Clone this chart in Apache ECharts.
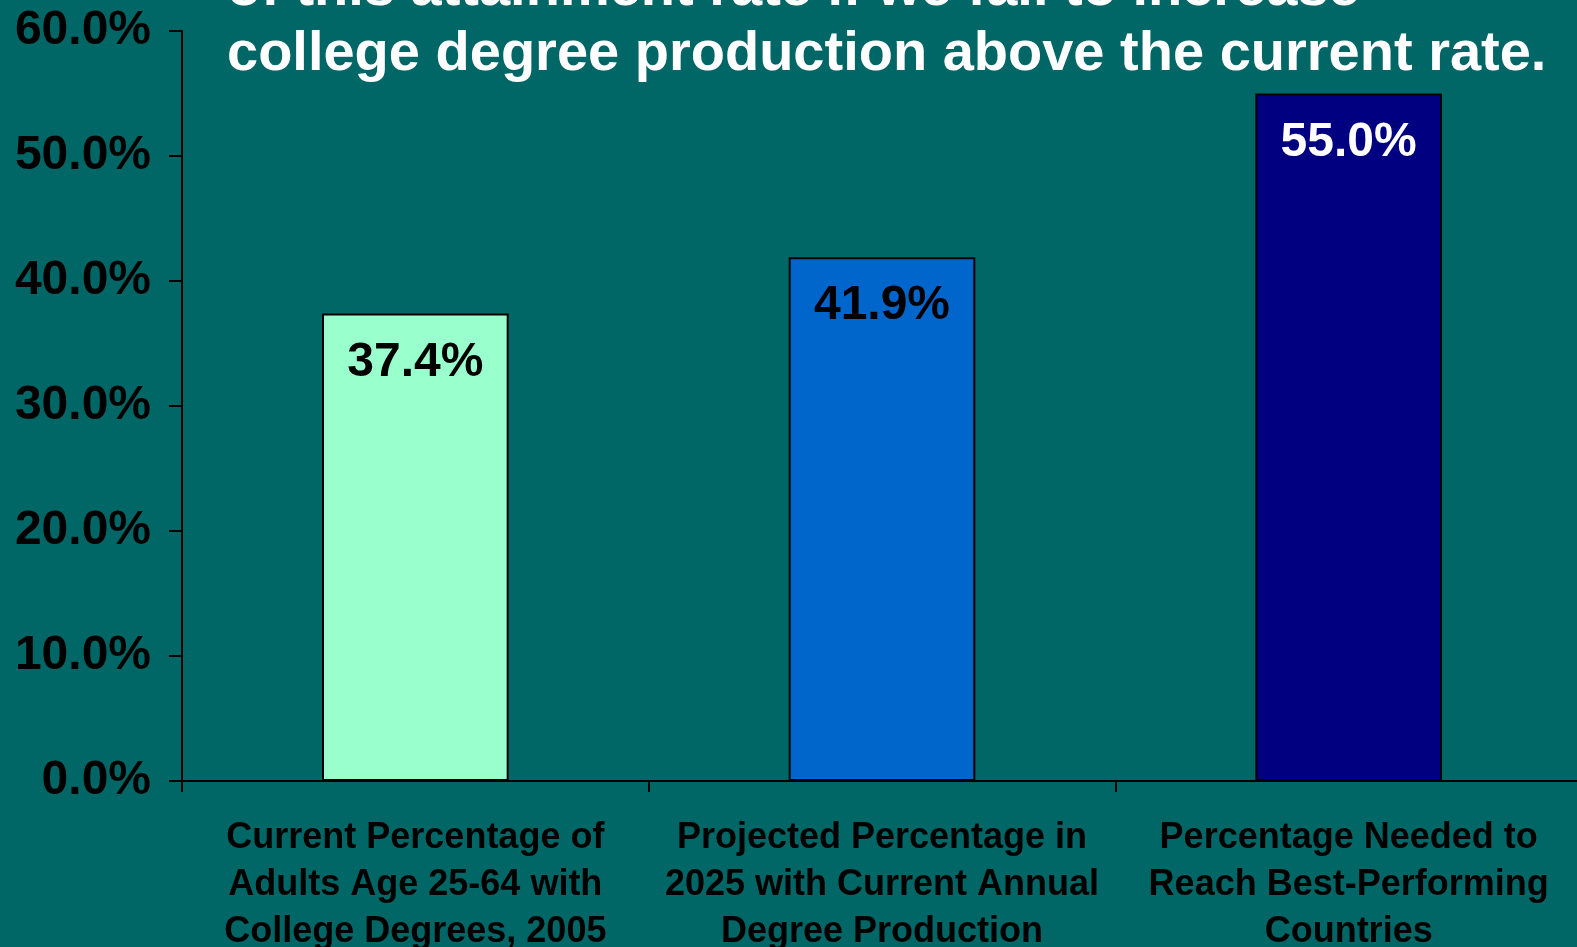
<!DOCTYPE html>
<html>
<head>
<meta charset="utf-8">
<script src="https://cdn.jsdelivr.net/npm/echarts@6/dist/echarts.min.js"></script>
<style>
  html, body { margin: 0; padding: 0; background: #006666; }
  #chart { width: 1577px; height: 947px; }
</style>
</head>
<body>
<div id="chart"></div>
<script>
// Share of adults with college degrees: now, projected, and needed
const categories = [
  'Current Percentage of\nAdults Age 25-64 with\nCollege Degrees, 2005',
  'Projected Percentage in\n2025 with Current Annual\nDegree Production',
  'Percentage Needed to\nReach Best-Performing\nCountries'
];
const values = [37.4, 41.9, 55.0];
const barColors = ['#99FFCC', '#0066CC', '#000080'];
const labelColors = ['#000000', '#000000', '#FFFFFF'];
const titleText = 'of this attainment rate if we fail to increase\ncollege degree production above the current rate.';

const FONT = '"Liberation Sans", Arial, sans-serif';

const chart = echarts.init(document.getElementById('chart'), null, { renderer: 'canvas' });

chart.setOption({
  backgroundColor: '#006666',
  animation: false,
  title: {
    text: titleText,
    left: 222,
    top: -48,
    textStyle: {
      color: '#FFFFFF',
      fontFamily: FONT,
      fontWeight: 'bold',
      fontSize: 56,
      lineHeight: 65
    }
  },
  grid: {
    left: 182, top: 31, width: 1400, height: 750,
    containLabel: false,
    outerBoundsMode: 'none'
  },
  xAxis: {
    type: 'category',
    data: categories,
    boundaryGap: true,
    axisLine: { lineStyle: { color: '#000000', width: 2 } },
    axisTick: { show: true, length: 11, lineStyle: { color: '#000000', width: 2 } },
    axisLabel: {
      interval: 0,
      margin: 34,
      color: '#000000',
      fontFamily: FONT,
      fontWeight: 'bold',
      fontSize: 36,
      lineHeight: 47
    }
  },
  yAxis: {
    type: 'value',
    min: 0,
    max: 60,
    interval: 10,
    splitLine: { show: false },
    axisLine: { show: true, lineStyle: { color: '#000000', width: 2 } },
    axisTick: { show: true, length: 13, lineStyle: { color: '#000000', width: 2 } },
    axisLabel: {
      margin: 31,
      color: '#000000',
      fontFamily: FONT,
      fontWeight: 'bold',
      fontSize: 48,
      formatter: v => v.toFixed(1) + '%'
    }
  },
  series: [{
    type: 'bar',
    barWidth: '40%',
    data: values.map((v, i) => ({
      value: v,
      itemStyle: { color: barColors[i], borderColor: '#000000', borderWidth: 2 },
      label: { color: labelColors[i] }
    })),
    label: {
      show: true,
      position: 'insideTop',
      distance: 25,
      fontFamily: FONT,
      fontWeight: 'bold',
      fontSize: 48,
      lineHeight: 48,
      formatter: p => p.value.toFixed(1) + '%'
    }
  }]
});
</script>
</body>
</html>
